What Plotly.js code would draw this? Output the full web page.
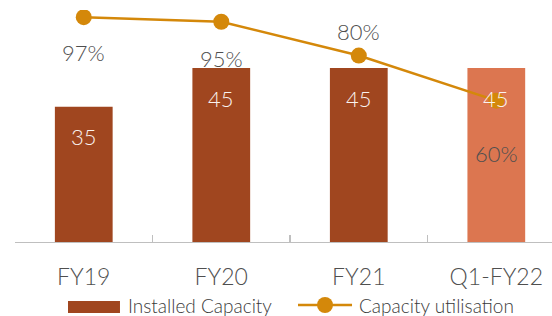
<!DOCTYPE html>
<html><head><meta charset="utf-8">
<script src="https://cdn.plot.ly/plotly-3.0.1.min.js"></script>
<style>html,body{margin:0;padding:0;background:#fff}#chart{width:552px;height:316px}</style>
</head><body><div id="chart"></div>
<script>
const categories = ['FY19', 'FY20', 'FY21', 'Q1-FY22'];
const installedCapacity = [35, 45, 45, 45];
const capacityUtilisation = [0.97, 0.95, 0.80, 0.60];
const capacityLabels = ['35', '45', '45', '45'];
const utilisationLabels = ['97%', '95%', '80%', '60%'];
const seriesNames = ['Installed Capacity', 'Capacity utilisation'];

const FONT = 'Lato, "Open Sans", sans-serif';
const barColors = ['#A0461F', '#A0461F', '#A0461F', '#DC7650'];
const lineColor = '#D4880A';
const pctShift = [-35, -37, 24, -53];
const textColor = '#4F4F4F';

const traces = [
  {
    type: 'bar', name: seriesNames[0],
    x: categories, y: installedCapacity,
    marker: {color: barColors},
    width: 0.42, hoverinfo: 'none', showlegend: false
  },
  {
    type: 'scatter', mode: 'lines+markers', name: seriesNames[1],
    x: categories, y: capacityUtilisation, yaxis: 'y2',
    line: {color: lineColor, width: 2.5},
    marker: {color: lineColor, size: 16},
    hoverinfo: 'none', showlegend: false
  }
];

const annotations = [];
categories.forEach((c, i) => {
  annotations.push({
    x: c, y: installedCapacity[i], xref: 'x', yref: 'y',
    text: capacityLabels[i], showarrow: false, yshift: -30,
    font: {family: FONT, size: 22, weight: 300, color: '#FAF3EF'}
  });
  annotations.push({
    x: c, y: capacityUtilisation[i], xref: 'x', yref: 'y2',
    text: utilisationLabels[i], showarrow: false, yshift: pctShift[i],
    font: {family: FONT, size: 22, weight: 300, color: textColor}
  });
});

// legend (drawn manually to match the reference symbols)
const legFont = {family: FONT, size: 19, weight: 300, color: '#3A3A3A'};
annotations.push({xref: 'paper', yref: 'paper', x: 0.2067, y: -0.2716, xanchor: 'left', yanchor: 'middle',
  text: seriesNames[0], showarrow: false, font: legFont});
annotations.push({xref: 'paper', yref: 'paper', x: 0.6369, y: -0.2716, xanchor: 'left', yanchor: 'middle',
  text: seriesNames[1], showarrow: false, font: legFont});

const shapes = [
  {type: 'rect', xref: 'paper', yref: 'paper', x0: 0.0987, x1: 0.1955, y0: -0.306, y1: -0.254,
   fillcolor: barColors[0], line: {width: 0}},
  {type: 'line', xref: 'paper', yref: 'paper', x0: 0.527, x1: 0.6276, y0: -0.2716, y1: -0.2716,
   line: {color: lineColor, width: 2.5}},
  {type: 'circle', xref: 'paper', yref: 'paper', xsizemode: 'pixel', ysizemode: 'pixel',
   xanchor: 0.5773, yanchor: -0.2716, x0: -8, x1: 8, y0: -8, y1: 8,
   fillcolor: lineColor, line: {width: 0}}
];

const layout = {
  width: 552, height: 316,
  margin: {l: 15, r: 0, t: 10, b: 74},
  paper_bgcolor: '#fff', plot_bgcolor: '#fff',
  font: {family: FONT, color: textColor},
  showlegend: false,
  xaxis: {
    type: 'category', range: [-0.5, 3.405],
    showline: true, linecolor: '#BFBFBF', linewidth: 1.3,
    ticks: 'inside', tickson: 'boundaries', ticklen: 7, tickcolor: '#BFBFBF', tickwidth: 1.3,
    tickfont: {family: FONT, size: 23, weight: 300, color: textColor},
    ticklabelstandoff: 14,
    showgrid: false, zeroline: false, fixedrange: true
  },
  yaxis: {
    range: [0, 60], visible: false, showgrid: false, zeroline: false, fixedrange: true
  },
  yaxis2: {
    range: [-0.027, 1.002], overlaying: 'y', side: 'right', visible: false,
    showgrid: false, zeroline: false, fixedrange: true
  },
  annotations: annotations,
  shapes: shapes
};

Plotly.newPlot('chart', traces, layout, {displayModeBar: false, staticPlot: true});
</script></body></html>
